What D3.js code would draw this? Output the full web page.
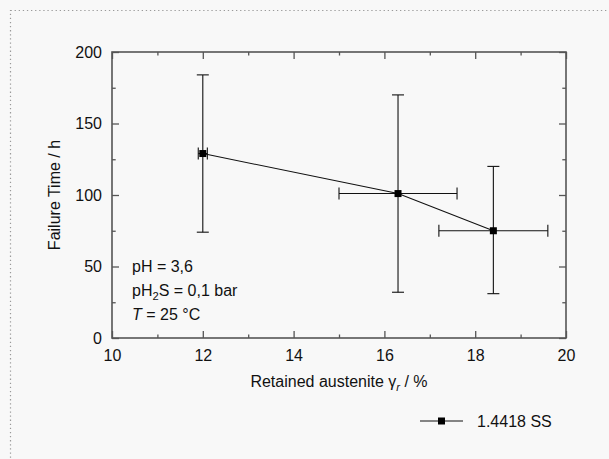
<!DOCTYPE html>
<html>
<head>
<meta charset="utf-8">
<script src="https://cdn.jsdelivr.net/npm/d3@7"></script>
<style>
  html, body { margin: 0; padding: 0; background: #f8f8f8; }
  svg { display: block; font-family: "Liberation Sans", Arial, sans-serif; }
</style>
</head>
<body>
<svg id="chart" width="609" height="459"></svg>
<script>
// Retained austenite content (%) and failure time (h), 1.4418 SS
const austenite = [12.0, 16.3, 18.4];
const austeniteLow = [11.9, 15.0, 17.2];
const austeniteHigh = [12.1, 17.6, 19.6];
const failureTime = [129, 101, 75];
const failureLow = [74, 32, 31];
const failureHigh = [184, 170, 120];
const xTicks = [10, 12, 14, 16, 18, 20];
const yTicks = [0, 50, 100, 150, 200];
const seriesName = "1.4418 SS";

const points = austenite.map((x, i) => ({
  x, y: failureTime[i],
  xl: austeniteLow[i], xh: austeniteHigh[i],
  yl: failureLow[i], yh: failureHigh[i]
}));

const svg = d3.select("#chart");
const m = { left: 112, right: 566, top: 52, bottom: 338 };

// dotted outer panel border
svg.append("rect")
  .attr("x", 10.5).attr("y", 10.5)
  .attr("width", 640).attr("height", 500)
  .attr("fill", "none")
  .attr("stroke", "#9a9a9a")
  .attr("stroke-width", 1.2)
  .attr("stroke-dasharray", "1.3,2.8");

const x = d3.scaleLinear().domain([10, 20]).range([m.left, m.right]);
const y = d3.scaleLinear().domain([0, 200]).range([m.bottom, m.top]);

const frameColor = "#555";
const fs = 16;

// axes with inward ticks on all four sides
function tickAxis(axisFn, scale, values, len, transform, labels) {
  const g = svg.append("g").attr("transform", transform)
    .call(axisFn(scale).tickValues(values).tickSizeInner(len).tickSizeOuter(0)
      .tickFormat(labels ? d3.format("d") : ""));
  g.select(".domain").remove();
  g.selectAll(".tick line").attr("stroke", frameColor).attr("stroke-width", 1.3);
  g.selectAll(".tick text").attr("fill", "#111").attr("font-size", fs)
    .attr("font-family", null);
  return g;
}
const xMinor = d3.range(11, 20, 2);
const yMinor = [25, 75, 125, 175];

// bottom
const xb = tickAxis(d3.axisTop, x, xTicks, 7, `translate(0,${m.bottom})`, true);
xb.selectAll(".tick text").attr("y", 12).attr("dy", "0.71em");
tickAxis(d3.axisTop, x, xMinor, 3.5, `translate(0,${m.bottom})`, false);
// top
tickAxis(d3.axisBottom, x, xTicks, 7, `translate(0,${m.top})`, false);
tickAxis(d3.axisBottom, x, xMinor, 3.5, `translate(0,${m.top})`, false);
// left
const yl = tickAxis(d3.axisRight, y, yTicks, 7, `translate(${m.left},0)`, true);
yl.selectAll(".tick text").attr("x", -10).attr("text-anchor", "end");
tickAxis(d3.axisRight, y, yMinor, 3.7, `translate(${m.left},0)`, false);
// right
tickAxis(d3.axisLeft, y, yTicks, 7, `translate(${m.right},0)`, false);
tickAxis(d3.axisLeft, y, yMinor, 3.7, `translate(${m.right},0)`, false);

// plot frame
svg.append("rect")
  .attr("x", m.left).attr("y", m.top)
  .attr("width", m.right - m.left).attr("height", m.bottom - m.top)
  .attr("fill", "none").attr("stroke", frameColor).attr("stroke-width", 1.6);

// axis titles
const xt = svg.append("text")
  .attr("x", (m.left + m.right) / 2).attr("y", 387)
  .attr("text-anchor", "middle").attr("font-size", fs).attr("fill", "#111");
xt.append("tspan").text("Retained austenite ");
xt.append("tspan").text("γ");
xt.append("tspan").attr("font-style", "italic").attr("font-size", fs * 0.7).attr("dy", 4).text("r");
xt.append("tspan").attr("dy", -4).text(" / %");

svg.append("text")
  .attr("transform", `translate(60,${(m.top + m.bottom) / 2}) rotate(-90)`)
  .attr("text-anchor", "middle").attr("font-size", fs).attr("fill", "#111")
  .text("Failure Time / h");

// test conditions
const cond = svg.append("g").attr("font-size", fs).attr("fill", "#111");
cond.append("text").attr("x", 132).attr("y", 272).text("pH = 3,6");
const c2 = cond.append("text").attr("x", 132).attr("y", 296);
c2.append("tspan").text("pH");
c2.append("tspan").attr("font-size", fs * 0.7).attr("dy", 4).text("2");
c2.append("tspan").attr("dy", -4).text("S = 0,1 bar");
const c3 = cond.append("text").attr("x", 132).attr("y", 320);
c3.append("tspan").attr("font-style", "italic").text("T");
c3.append("tspan").text(" = 25 °C");

// connecting line
svg.append("path")
  .datum(points)
  .attr("fill", "none").attr("stroke", "#111").attr("stroke-width", 1.1)
  .attr("d", d3.line().x(d => x(d.x)).y(d => y(d.y)));

// error bars
const cap = 6;
const eb = svg.append("g").attr("stroke", "#111").attr("stroke-width", 1.1);
points.forEach(d => {
  eb.append("line").attr("x1", x(d.x)).attr("x2", x(d.x)).attr("y1", y(d.yl)).attr("y2", y(d.yh));
  eb.append("line").attr("x1", x(d.x) - cap).attr("x2", x(d.x) + cap).attr("y1", y(d.yl)).attr("y2", y(d.yl));
  eb.append("line").attr("x1", x(d.x) - cap).attr("x2", x(d.x) + cap).attr("y1", y(d.yh)).attr("y2", y(d.yh));
  eb.append("line").attr("x1", x(d.xl)).attr("x2", x(d.xh)).attr("y1", y(d.y)).attr("y2", y(d.y));
  eb.append("line").attr("x1", x(d.xl)).attr("x2", x(d.xl)).attr("y1", y(d.y) - cap).attr("y2", y(d.y) + cap);
  eb.append("line").attr("x1", x(d.xh)).attr("x2", x(d.xh)).attr("y1", y(d.y) - cap).attr("y2", y(d.y) + cap);
});

// markers
const ms = 7;
svg.append("g").selectAll("rect").data(points).join("rect")
  .attr("x", d => x(d.x) - ms / 2).attr("y", d => y(d.y) - ms / 2)
  .attr("width", ms).attr("height", ms).attr("fill", "#000");

// legend
const lg = svg.append("g").attr("transform", "translate(420,421)");
lg.append("line").attr("x1", 0).attr("x2", 43).attr("y1", 0).attr("y2", 0)
  .attr("stroke", "#111").attr("stroke-width", 1.1);
lg.append("rect").attr("x", 21.5 - ms / 2).attr("y", -ms / 2).attr("width", ms).attr("height", ms).attr("fill", "#000");
lg.append("text").attr("x", 57).attr("y", 6).attr("font-size", fs).attr("fill", "#111").text(seriesName);
</script>
</body>
</html>
